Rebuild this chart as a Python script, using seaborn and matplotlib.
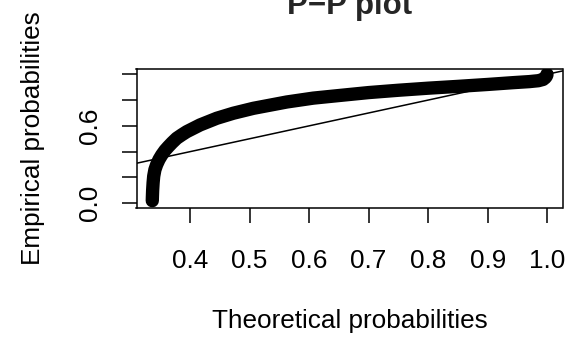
import matplotlib
matplotlib.use("Agg")
import matplotlib.pyplot as plt
import seaborn as sns
import pandas as pd

# ---- data ----
theoretical = [0.3366, 0.3368, 0.3372, 0.3380, 0.3390, 0.3410, 0.3440, 0.3480,
               0.3524, 0.3580, 0.3636, 0.3700, 0.3777, 0.3860, 0.3945, 0.4168,
               0.4450, 0.4728, 0.5064, 0.5625, 0.6070, 0.6500, 0.7000, 0.7500,
               0.8000, 0.8500, 0.9000, 0.9430, 0.9700, 0.9850, 0.9930, 0.9970,
               0.9990, 0.9995]
empirical = [0.020, 0.050, 0.100, 0.160, 0.210, 0.260, 0.300, 0.340,
             0.374, 0.410, 0.439, 0.470, 0.504, 0.530, 0.555, 0.607,
             0.659, 0.698, 0.736, 0.785, 0.815, 0.835, 0.858, 0.876,
             0.892, 0.906, 0.921, 0.935, 0.943, 0.950, 0.960, 0.975,
             0.990, 1.000]
x_ticks = [0.4, 0.5, 0.6, 0.7, 0.8, 0.9, 1.0]
x_tick_labels = ["0.4", "0.5", "0.6", "0.7", "0.8", "0.9", "1.0"]
y_ticks = [0.0, 0.2, 0.4, 0.6, 0.8, 1.0]
y_tick_labels = ["0.0", "", "", "0.6", "", ""]
title = "P\u2212P plot"
x_label = "Theoretical probabilities"
y_label = "Empirical probabilities"

sns.set_style("ticks")
plt.rcParams["font.family"] = ["Liberation Sans", "DejaVu Sans"]

df = pd.DataFrame({"theoretical": theoretical, "empirical": empirical})

fig = plt.figure(figsize=(5.72, 3.39), dpi=100)
ax = fig.add_axes([136.5 / 572, 1 - 208.3 / 339, 426 / 572, 139.6 / 339])

sns.lineplot(data=df, x="theoretical", y="empirical", ax=ax, estimator=None,
             sort=False, color="black", lw=9.6, solid_capstyle="round",
             solid_joinstyle="round", zorder=3)
ax.axline((0, 0), (1, 1), color="black", lw=1.1, zorder=2)

ax.set_xlim(0.3101, 1.0255)
ax.set_ylim(-0.039, 1.043)
ax.set_xticks(x_ticks)
ax.set_xticklabels(x_tick_labels)
ax.set_yticks(y_ticks)
ax.set_yticklabels(y_tick_labels)

lw = 1.1
for s in ax.spines.values():
    s.set_linewidth(lw)
    s.set_color("black")
    s.set_visible(True)

fs = 18.8
ax.tick_params(axis="both", direction="out", length=10.8, width=lw,
               color="black", labelsize=fs, labelcolor="black")
ax.tick_params(axis="x", pad=18.2)
ax.tick_params(axis="y", pad=14.0)
for lab in ax.get_yticklabels():
    lab.set_rotation(90)
    lab.set_va("center")
    lab.set_ha("right")

ax.set_xlabel(x_label, fontsize=fs, color="black")
ax.set_ylabel(y_label, fontsize=fs, color="black")
ax.xaxis.set_label_coords(0.5, -0.722)
ax.yaxis.set_label_coords(-0.2148, 0.5)
ax.set_title(title, fontsize=22.5, fontweight="bold", pad=39.5)

fig.savefig("out.png", dpi=100)
